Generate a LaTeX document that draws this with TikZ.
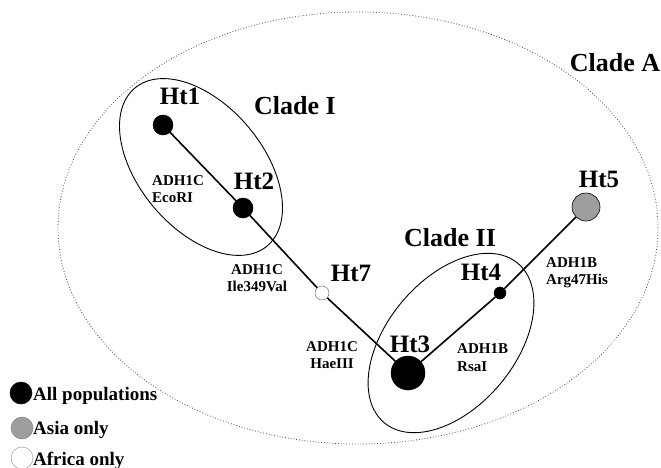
\documentclass[tikz,border=0pt]{standalone}
\usepackage{fontspec}
\setmainfont{Liberation Serif}
\begin{document}
\begin{tikzpicture}[x=1pt,y=-1pt,
  hap/.style={circle,draw=black,fill=black,inner sep=0pt,line width=0.5pt},
  asia/.style={circle,draw=black,fill=black!38,inner sep=0pt,line width=0.6pt},
  africa/.style={circle,draw=black!55,fill=white,inner sep=0pt,line width=0.5pt},
  link/.style={line width=1.6pt},
  cladeline/.style={line width=0.9pt},
  biglbl/.style={font=\bfseries\fontsize{25}{30}\selectfont,inner sep=0pt,anchor=base},
  cladelbl/.style={font=\bfseries\fontsize{26}{31}\selectfont,inner sep=0pt,anchor=base},
  smalllbl/.style={font=\bfseries\fontsize{15}{17}\selectfont,inner sep=0pt},
  leglbl/.style={font=\bfseries\fontsize{19}{22}\selectfont,inner sep=0pt,anchor=base west}]
\useasboundingbox (0,0) rectangle (661,468);
% Clade A (dotted)
\draw[dotted,line width=0.8pt,black!70] (358,228) ellipse [x radius=300pt, y radius=216pt];
% Clade I and II
\draw[cladeline,rotate around={-50:(201,167)}] (201,167) ellipse [x radius=103pt, y radius=62pt];
\draw[cladeline,rotate around={50:(451,343)}] (451,343) ellipse [x radius=104pt, y radius=64pt];
% haplotypes
\node[hap,minimum size=20pt] (ht1) at (163,125) {};
\node[hap,minimum size=20pt] (ht2) at (243,208) {};
\node[africa,minimum size=14pt] (ht7) at (322,293) {};
\node[hap,minimum size=34pt] (ht3) at (408,373) {};
\node[hap,minimum size=12pt] (ht4) at (500,293) {};
\node[asia,minimum size=28pt] (ht5) at (586,207) {};
% connectors
\draw[link] (ht1) -- (ht2);
\draw[link] (ht2) -- (ht7);
\draw[link] (ht7) -- (ht3);
\draw[link] (ht3) -- (ht4);
\draw[link] (ht4) -- (ht5);
% haplotype labels
\node[biglbl] (l1) at (180,105) {Ht1};
\node[biglbl] (l2) at (254,189) {Ht2};
\node[biglbl] (l7) at (351,281) {Ht7};
\node[biglbl] (l4) at (481,280) {Ht4};
\node[biglbl] (l3) at (410,352) {Ht3};
\node[biglbl] (l5) at (599,187) {Ht5};
% clade labels
\node[cladelbl] (cI) at (295,115) {Clade I};
\node[cladelbl] (cII) at (450,246) {Clade II};
\node[cladelbl] (cA) at (615,72) {Clade A};
% mutation labels
\node[smalllbl,anchor=base west] (m1a) at (152,185) {ADH1C};
\node[smalllbl,anchor=base west] (m1b) at (152,202) {EcoRI};
\node[smalllbl,anchor=base] (m2a) at (257,274) {ADH1C};
\node[smalllbl,anchor=base] (m2b) at (257,291) {Ile349Val};
\node[smalllbl,anchor=base] (m3a) at (332,351) {ADH1C};
\node[smalllbl,anchor=base] (m3b) at (332,368) {HaeIII};
\node[smalllbl,anchor=base west] (m4a) at (457,353) {ADH1B};
\node[smalllbl,anchor=base west] (m4b) at (457,371) {RsaI};
\node[smalllbl,anchor=base west] (m5a) at (546,267) {ADH1B};
\node[smalllbl,anchor=base west] (m5b) at (546,284) {Arg47His};
% legend
\node[hap,minimum size=22pt] (k1) at (21,393) {};
\node[asia,minimum size=22pt,line width=0.3pt,draw=black!60] (k2) at (22,428) {};
\node[africa,minimum size=22pt,line width=0.3pt] (k3) at (22,458) {};
\node[leglbl] (t1) at (33,400) {All populations};
\node[leglbl] (t2) at (33,434) {Asia only};
\node[leglbl] (t3) at (33,465) {Africa only};
\end{tikzpicture}
\end{document}
